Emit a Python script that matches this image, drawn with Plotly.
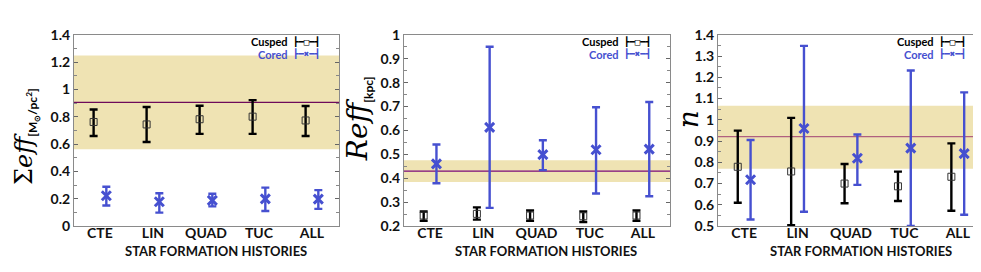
import plotly.graph_objects as go

categories = ["CTE", "LIN", "QUAD", "TUC", "ALL"]

# Panel 1: Sigma_eff
sig_cusp = [0.762, 0.744, 0.782, 0.801, 0.773]
sig_cusp_hi = [0.853, 0.872, 0.881, 0.922, 0.879]
sig_cusp_lo = [0.659, 0.615, 0.675, 0.675, 0.659]
sig_core = [0.222, 0.178, 0.188, 0.199, 0.197]
sig_core_hi = [0.288, 0.240, 0.236, 0.281, 0.263]
sig_core_lo = [0.151, 0.098, 0.144, 0.110, 0.126]
sig_band = [0.563, 1.249]
sig_ref = 0.906

# Panel 2: R_eff
r_cusp = [0.244, 0.251, 0.244, 0.241, 0.244]
r_cusp_hi = [0.261, 0.278, 0.265, 0.261, 0.265]
r_cusp_lo = [0.222, 0.227, 0.222, 0.217, 0.222]
r_core = [0.460, 0.613, 0.499, 0.519, 0.522]
r_core_hi = [0.541, 0.950, 0.559, 0.697, 0.719]
r_core_lo = [0.379, 0.276, 0.434, 0.336, 0.325]
r_band = [0.384, 0.475]
r_ref = 0.430

# Panel 3: n
n_cusp = [0.779, 0.757, 0.700, 0.687, 0.732]
n_cusp_hi = [0.949, 1.009, 0.792, 0.756, 0.889]
n_cusp_lo = [0.610, 0.504, 0.607, 0.618, 0.572]
n_core = [0.718, 0.959, 0.819, 0.867, 0.841]
n_core_hi = [0.905, 1.348, 0.931, 1.232, 1.129]
n_core_lo = [0.531, 0.567, 0.694, 0.501, 0.553]
n_band = [0.770, 1.066]
n_ref = 0.921

BLACK = "#000000"
BLUE = "#4650d0"
BAND = "#efe3b3"
FONT = "Lato"

panels = [
    dict(c=sig_cusp, ch=sig_cusp_hi, cl=sig_cusp_lo, k=sig_core, kh=sig_core_hi, kl=sig_core_lo,
         band=sig_band, ref=sig_ref, refcol="#6e0a5a", yr=[0, 1.4], dt=0.2, mdt=0.1,
         dom=[66, 331]),
    dict(c=r_cusp, ch=r_cusp_hi, cl=r_cusp_lo, k=r_core, kh=r_core_hi, kl=r_core_lo,
         band=r_band, ref=r_ref, refcol="#7a0a7a", yr=[0.2, 1.0], dt=0.1, mdt=0.05,
         dom=[396, 662]),
    dict(c=n_cusp, ch=n_cusp_hi, cl=n_cusp_lo, k=n_core, kh=n_core_hi, kl=n_core_lo,
         band=n_band, ref=n_ref, refcol="#b0607f", yr=[0.5, 1.4], dt=0.1, mdt=0.05,
         dom=[710, 977]),
]

W, H = 981, 272
fig = go.Figure()
off = 0.12
idx = list(range(len(categories)))

for i, p in enumerate(panels):
    s = "" if i == 0 else str(i + 1)
    xa, ya = "x" + s, "y" + s
    fig.add_shape(type="rect", xref=xa + " domain", yref=ya, x0=0, x1=1,
                  y0=p["band"][0], y1=p["band"][1], fillcolor=BAND, line_width=0, layer="below")
    fig.add_shape(type="line", xref=xa + " domain", yref=ya, x0=0, x1=1,
                  y0=p["ref"], y1=p["ref"], line=dict(color=p["refcol"], width=1.3), layer="below")
    fig.add_trace(go.Scatter(
        x=[j - off for j in idx], y=p["c"], mode="markers", xaxis=xa, yaxis=ya, showlegend=False,
        marker=dict(symbol="square-open", size=7, color="#333", line=dict(width=1)),
        error_y=dict(type="data", symmetric=False,
                     array=[h - v for h, v in zip(p["ch"], p["c"])],
                     arrayminus=[v - l for l, v in zip(p["cl"], p["c"])],
                     color=BLACK, thickness=2.4, width=4)))
    fig.add_trace(go.Scatter(
        x=[j + off for j in idx], y=p["k"], mode="markers", xaxis=xa, yaxis=ya, showlegend=False,
        marker=dict(symbol="x-thin", size=9, color=BLUE, line=dict(width=3, color=BLUE)),
        error_y=dict(type="data", symmetric=False,
                     array=[h - v for h, v in zip(p["kh"], p["k"])],
                     arrayminus=[v - l for l, v in zip(p["kl"], p["k"])],
                     color=BLUE, thickness=2.4, width=4)))

    dom = [p["dom"][0] / W, p["dom"][1] / W]
    ydom = [1 - 223 / H, 1 - 19 / H]
    fig.layout["xaxis" + s] = dict(
        domain=dom, range=[-0.49, 4.51], tickvals=idx, ticktext=categories,
        tickfont=dict(family=FONT, size=14, color="#111", weight="bold"),
        showgrid=False, zeroline=False, showline=True, linecolor="#8a8a8a", linewidth=1,
        mirror=True, ticks="", ticklabelstandoff=-6, anchor=ya)
    fig.layout["yaxis" + s] = dict(
        domain=ydom, range=p["yr"], dtick=p["dt"], tick0=0,
        tickfont=dict(family=FONT, size=14, color="#111", weight="bold"),
        showgrid=False, zeroline=False, showline=True, linecolor="#8a8a8a", linewidth=1,
        mirror="ticks", ticks="inside", ticklen=4, tickcolor="#666",
        minor=dict(dtick=p["mdt"], ticks="inside", ticklen=3, tickcolor="#888"),
        anchor=xa)
    fig.add_annotation(text="<b>STAR FORMATION HISTORIES</b>", xref=xa + " domain", yref="paper",
                       x=0.5, y=1 - 250 / H, xshift=9, yanchor="middle", showarrow=False,
                       font=dict(family=FONT, size=13, color="#111"))
    fig.add_annotation(text="<b>Cusped</b>", xref=xa + " domain", yref="paper", x=0.815, y=1 - 26.5 / H,
                       xanchor="right", yanchor="middle", showarrow=False,
                       font=dict(family=FONT, size=11, color="#000"))
    fig.add_annotation(text="<b>Cored</b>", xref=xa + " domain", yref="paper", x=0.815, y=1 - 39.5 / H,
                       xanchor="right", yanchor="middle", showarrow=False,
                       font=dict(family=FONT, size=11, color=BLUE))
    fig.add_annotation(text="┣━□━┫", xref=xa + " domain", yref="paper", x=0.82, y=1 - 26.5 / H,
                       xanchor="left", yanchor="middle", showarrow=False,
                       font=dict(family="DejaVu Sans Mono", size=9, color="#000"))
    fig.add_annotation(text="┣━✖━┫", xref=xa + " domain", yref="paper", x=0.82, y=1 - 39.5 / H,
                       xanchor="left", yanchor="middle", showarrow=False,
                       font=dict(family="DejaVu Sans Mono", size=9, color=BLUE))

fig.add_shape(type="line", xref="x3 domain", yref="paper", x0=1, x1=1, y0=1 - 226 / H, y1=1 - 15 / H,
              line=dict(color="#000", width=2))

serif = "DejaVu Serif"
fig.add_annotation(
    text=("<span style='font-size:24px'>Σ<i>eff</i></span>"
          "<sub><span style='font-family:%s;font-size:12px'><b>[M<sub>⊙</sub>/pc<sup>2</sup>]</b></span></sub>") % FONT,
    xref="paper", yref="paper", x=18 / W, y=1 - 128 / H, textangle=-90, showarrow=False,
    xanchor="center", yanchor="middle", font=dict(family=serif, color="#000", size=24))
fig.add_annotation(
    text=("<span style='font-size:28px'><i>Reff</i></span>"
          "<sub><span style='font-family:%s;font-size:12px'><b>[kpc]</b></span></sub>") % FONT,
    xref="paper", yref="paper", x=350 / W, y=1 - 109 / H, textangle=-90, showarrow=False,
    xanchor="center", yanchor="middle", font=dict(family=serif, color="#000", size=28))
fig.add_annotation(
    text="<i>n</i>",
    xref="paper", yref="paper", x=680 / W, y=1 - 109 / H, textangle=-90, showarrow=False,
    xanchor="center", yanchor="middle", font=dict(family=serif, color="#000", size=28))

fig.update_layout(width=W, height=H, margin=dict(l=0, r=0, t=0, b=0),
                  paper_bgcolor="white", plot_bgcolor="white", showlegend=False,
                  font=dict(family=FONT, color="#000"))
fig.write_html("out.html")
